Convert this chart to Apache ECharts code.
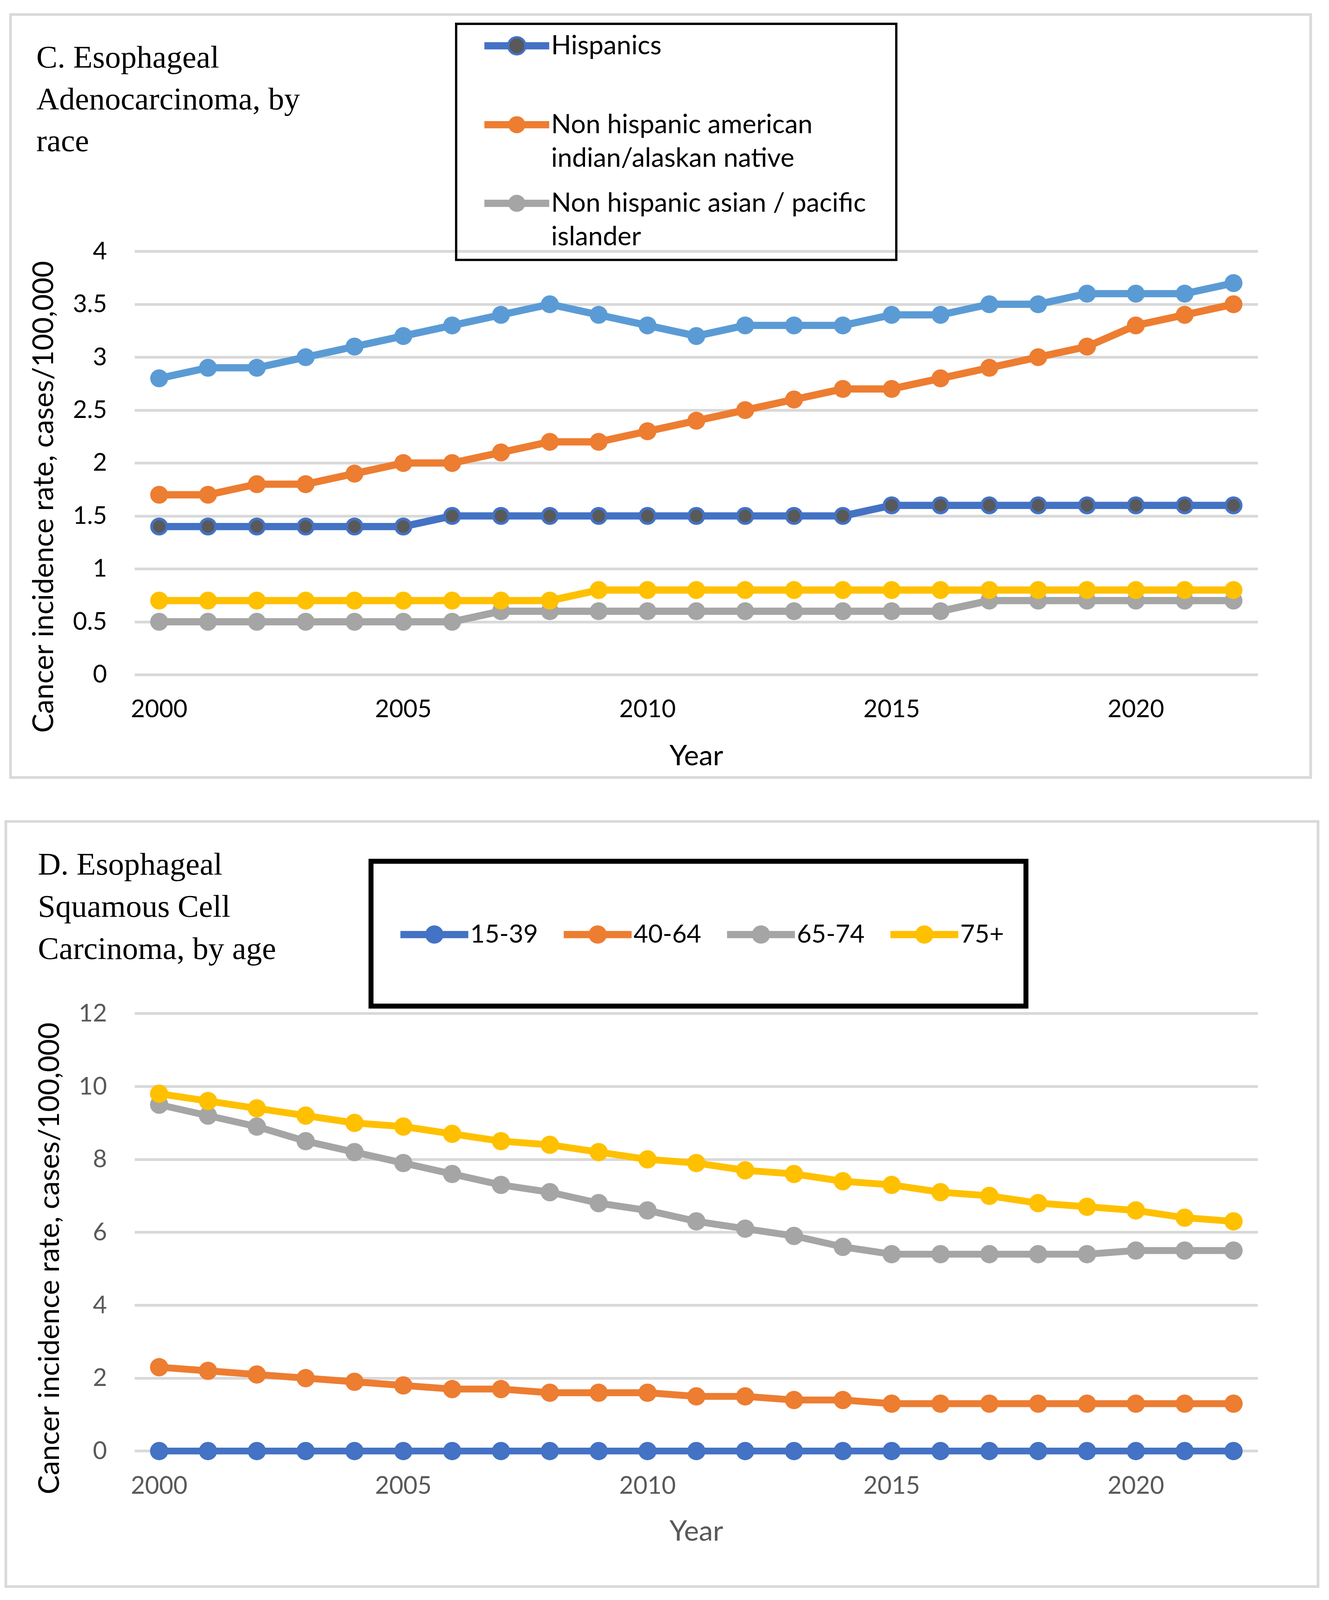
<!DOCTYPE html>
<html>
<head>
<meta charset="utf-8">
<script src="https://cdn.jsdelivr.net/npm/echarts@6/dist/echarts.min.js"></script>
<style>
html,body{margin:0;padding:0;background:#ffffff;overflow:hidden;}
#c{width:100vw;height:100vh;}
</style>
</head>
<body>
<div id="c"></div>
<script>
// ---------- Data ----------
const years = ['2000','2001','2002','2003','2004','2005','2006','2007','2008','2009','2010','2011','2012','2013','2014','2015','2016','2017','2018','2019','2020','2021','2022'];

// Panel C: Esophageal Adenocarcinoma, by race
const raceNames = ['Hispanics', 'Non hispanic american indian/alaskan native', 'Non hispanic asian / pacific islander', 'Series4', 'Series5'];
const hispanics      = [1.4,1.4,1.4,1.4,1.4,1.4,1.5,1.5,1.5,1.5,1.5,1.5,1.5,1.5,1.5,1.6,1.6,1.6,1.6,1.6,1.6,1.6,1.6];
const nhAmIndian     = [1.7,1.7,1.8,1.8,1.9,2.0,2.0,2.1,2.2,2.2,2.3,2.4,2.5,2.6,2.7,2.7,2.8,2.9,3.0,3.1,3.3,3.4,3.5];
const nhAsianPI      = [0.5,0.5,0.5,0.5,0.5,0.5,0.5,0.6,0.6,0.6,0.6,0.6,0.6,0.6,0.6,0.6,0.6,0.7,0.7,0.7,0.7,0.7,0.7];
const series4        = [0.7,0.7,0.7,0.7,0.7,0.7,0.7,0.7,0.7,0.8,0.8,0.8,0.8,0.8,0.8,0.8,0.8,0.8,0.8,0.8,0.8,0.8,0.8];
const series5        = [2.8,2.9,2.9,3.0,3.1,3.2,3.3,3.4,3.5,3.4,3.3,3.2,3.3,3.3,3.3,3.4,3.4,3.5,3.5,3.6,3.6,3.6,3.7];

// Panel D: Esophageal Squamous Cell Carcinoma, by age
const ageNames = ['15-39', '40-64', '65-74', '75+'];
const age15_39 = [0,0,0,0,0,0,0,0,0,0,0,0,0,0,0,0,0,0,0,0,0,0,0];
const age40_64 = [2.3,2.2,2.1,2.0,1.9,1.8,1.7,1.7,1.6,1.6,1.6,1.5,1.5,1.4,1.4,1.3,1.3,1.3,1.3,1.3,1.3,1.3,1.3];
const age65_74 = [9.5,9.2,8.9,8.5,8.2,7.9,7.6,7.3,7.1,6.8,6.6,6.3,6.1,5.9,5.6,5.4,5.4,5.4,5.4,5.4,5.5,5.5,5.5];
const age75p   = [9.8,9.6,9.4,9.2,9.0,8.9,8.7,8.5,8.4,8.2,8.0,7.9,7.7,7.6,7.4,7.3,7.1,7.0,6.8,6.7,6.6,6.4,6.3];

const titleC = 'C. Esophageal\nAdenocarcinoma, by\nrace';
const titleD = 'D. Esophageal\nSquamous Cell\nCarcinoma, by age';
const yAxisTitle = 'Cancer incidence rate, cases/100,000';
const xAxisTitle = 'Year';

// ---------- Layout (designed for 3403 x 4297, scaled to the actual viewport) ----------
const BASE_W = 3403, BASE_H = 4297;
const VW = window.innerWidth || BASE_W;
const VH = window.innerHeight || BASE_H;
const sx = VW / BASE_W, sy = VH / BASE_H;
const k = (sx + sy) / 2;
const X = v => v * sx;
const Y = v => v * sy;
const F = v => v * k;

const SANS = 'Lato';
const SERIF = 'Liberation Serif';
const GRID_COLOR = '#D9D9D9';
const FRAME_COLOR = '#D9D9D9';

const el = document.getElementById('c');
el.style.width = VW + 'px';
el.style.height = VH + 'px';
const chart = echarts.init(el, null, {renderer: 'canvas', width: VW, height: VH});

function lineSeries(name, data, color, idx, opts) {
  opts = opts || {};
  return {
    name: name,
    type: 'line',
    xAxisIndex: idx,
    yAxisIndex: idx,
    data: data,
    symbol: 'circle',
    symbolSize: F(opts.symbolSize || 47),
    showSymbol: true,
    animation: false,
    lineStyle: {color: color, width: F(opts.lineWidth || 19)},
    itemStyle: {
      color: opts.fill || color,
      borderColor: opts.border || color,
      borderWidth: F(opts.borderWidth || 0)
    },
    emphasis: {disabled: true}
  };
}

const legendMapC = {
  'Hispanics': 'Hispanics',
  'Non hispanic american indian/alaskan native': '\nNon hispanic american\nindian/alaskan native',
  'Non hispanic asian / pacific islander': '\nNon hispanic asian / pacific\nislander'
};

function legendC(name, top, extra) {
  return Object.assign({
    data: [name],
    orient: 'vertical',
    left: X(1231),
    top: Y(top),
    padding: 0,
    itemWidth: F(170),
    itemHeight: F(56),
    selectedMode: false,
    formatter: function (n) { return legendMapC[n]; },
    textStyle: {fontFamily: SANS, fontSize: F(69), color: '#000', lineHeight: Y(90)},
    lineStyle: {width: F(19)}
  }, extra || {});
}

const axisLabelBase = {fontFamily: SANS, fontSize: F(64)};

const option = {
  backgroundColor: '#ffffff',
  animation: false,
  title: [
    {text: titleC, left: X(88), top: Y(98), padding: 5,
     textStyle: {fontFamily: SERIF, fontSize: F(83), fontWeight: 'normal', color: '#000', lineHeight: Y(112)}},
    {text: titleD, left: X(92), top: Y(2265), padding: 5,
     textStyle: {fontFamily: SERIF, fontSize: F(83), fontWeight: 'normal', color: '#000', lineHeight: Y(113)}}
  ],
  legend: [
    legendC('Hispanics', 78, {itemStyle: {borderWidth: F(6)}}),
    legendC('Non hispanic american indian/alaskan native', 200),
    legendC('Non hispanic asian / pacific islander', 411),
    {
      data: ageNames,
      orient: 'horizontal',
      left: X(1016),
      top: Y(2507) - F(30),
      padding: 0,
      itemWidth: F(178),
      itemHeight: F(60),
      itemGap: F(58),
      selectedMode: false,
      textStyle: {fontFamily: SANS, fontSize: F(66), color: '#000', lineHeight: F(60)},
      lineStyle: {width: F(19)}
    }
  ],
  grid: [
    {left: X(345), width: X(2876), top: Y(675), height: Y(1137), containLabel: false},
    {left: X(345), width: X(2876), top: Y(2722), height: Y(1175), containLabel: false}
  ],
  xAxis: [
    {
      type: 'category', gridIndex: 0, data: years, boundaryGap: true,
      axisLine: {show: false}, axisTick: {show: false},
      axisLabel: Object.assign({interval: 4, margin: Y(60), color: '#000'}, axisLabelBase),
      name: xAxisTitle, nameLocation: 'middle', nameGap: Y(181),
      nameTextStyle: {fontFamily: SANS, fontSize: F(74), color: '#000'}
    },
    {
      type: 'category', gridIndex: 1, data: years, boundaryGap: true,
      axisLine: {show: false}, axisTick: {show: false},
      axisLabel: Object.assign({interval: 4, margin: Y(60), color: '#595959'}, axisLabelBase),
      name: xAxisTitle, nameLocation: 'middle', nameGap: Y(178),
      nameTextStyle: {fontFamily: SANS, fontSize: F(74), color: '#595959'}
    }
  ],
  yAxis: [
    {
      type: 'value', gridIndex: 0, min: 0, max: 4, interval: 0.5,
      axisLine: {show: false}, axisTick: {show: false},
      splitLine: {show: true, lineStyle: {color: GRID_COLOR, width: F(7)}},
      axisLabel: Object.assign({margin: X(71), color: '#000'}, axisLabelBase),
      name: yAxisTitle, nameLocation: 'middle', nameGap: X(196), nameRotate: 90,
      nameTextStyle: {fontFamily: SANS, fontSize: F(75), color: '#000', padding: [0, Y(182), 0, 0]}
    },
    {
      type: 'value', gridIndex: 1, min: 0, max: 12, interval: 2,
      axisLine: {show: false}, axisTick: {show: false},
      splitLine: {show: true, lineStyle: {color: GRID_COLOR, width: F(7)}},
      axisLabel: Object.assign({margin: X(71), color: '#595959'}, axisLabelBase),
      name: yAxisTitle, nameLocation: 'middle', nameGap: X(181), nameRotate: 90,
      nameTextStyle: {fontFamily: SANS, fontSize: F(75), color: '#000', padding: [0, Y(140), 0, 0]}
    }
  ],
  series: [
    lineSeries(raceNames[0], hispanics, '#4472C4', 0, {fill: '#595959', border: '#4472C4', borderWidth: 7, symbolSize: 40}),
    lineSeries(raceNames[1], nhAmIndian, '#ED7D31', 0),
    lineSeries(raceNames[2], nhAsianPI, '#A5A5A5', 0),
    lineSeries(raceNames[3], series4, '#FFC000', 0),
    lineSeries(raceNames[4], series5, '#5B9BD5', 0),
    lineSeries(ageNames[0], age15_39, '#4472C4', 1, {symbolSize: 48, lineWidth: 18}),
    lineSeries(ageNames[1], age40_64, '#ED7D31', 1, {symbolSize: 48, lineWidth: 18}),
    lineSeries(ageNames[2], age65_74, '#A5A5A5', 1, {symbolSize: 48, lineWidth: 18}),
    lineSeries(ageNames[3], age75p, '#FFC000', 1, {symbolSize: 48, lineWidth: 18})
  ],
  graphic: [
    {type: 'rect', z: -10, silent: true, shape: {x: X(27), y: Y(39), width: X(3329), height: Y(2049)},
     style: {fill: 'none', stroke: FRAME_COLOR, lineWidth: F(7)}},
    {type: 'rect', z: -10, silent: true, shape: {x: X(15), y: Y(2206), width: X(3360), height: Y(2055)},
     style: {fill: 'none', stroke: FRAME_COLOR, lineWidth: F(7)}},
    {type: 'rect', z: 1, silent: true, shape: {x: X(1168), y: Y(64), width: X(1127), height: Y(634)},
     style: {fill: 'none', stroke: '#000000', lineWidth: F(6)}},
    {type: 'rect', z: 1, silent: true, shape: {x: X(950), y: Y(2313), width: X(1677), height: Y(389)},
     style: {fill: 'none', stroke: '#000000', lineWidth: F(13)}}
  ]
};

chart.setOption(option);
</script>
</body>
</html>
